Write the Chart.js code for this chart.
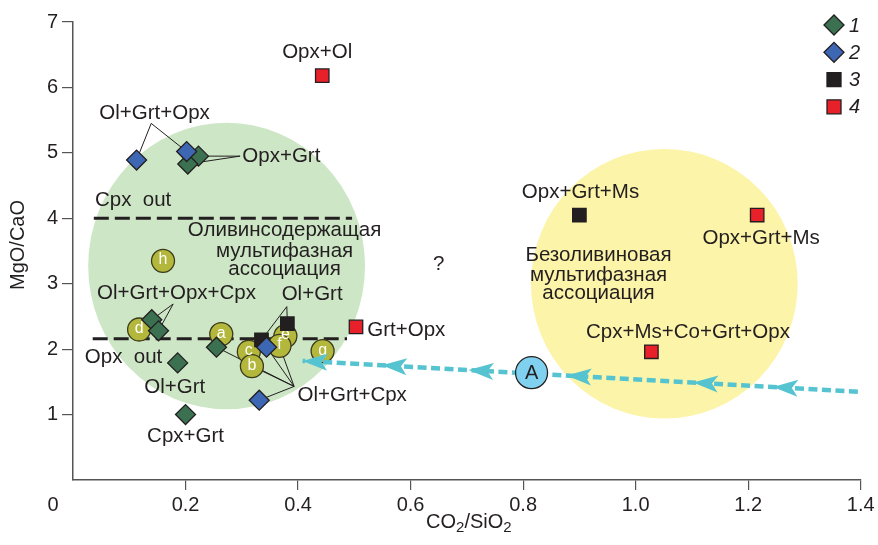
<!DOCTYPE html>
<html><head><meta charset="utf-8">
<script src="https://cdn.jsdelivr.net/npm/chart.js@4"></script>
<style>html,body{margin:0;padding:0;background:#fff}#wrap{width:878px;height:545px}</style>
</head><body><div id="wrap"><canvas id="c" width="878" height="545"></canvas></div>
<script>
// ---------- data ----------
const xTickLabels = ['0','0.2','0.4','0.6','0.8','1.0','1.2','1.4'];
const yTickLabels = ['0','1','2','3','4','5','6','7'];
const legendLabels = ['1','2','3','4'];

// series 1 (green diamonds)
const s1X = [0.223,0.204,0.140,0.152,0.186,0.255,0.200];
const s1Y = [4.95,4.83,2.45,2.28,1.79,2.03,1.00];
// series 2 (blue diamonds)
const s2X = [0.113,0.202,0.344,0.331];
const s2Y = [4.89,5.02,2.03,1.22];
// series 3 (black squares)
const s3X = [0.335,0.381,0.900];
const s3Y = [2.14,2.39,4.05];
// series 4 (red squares)
const s4X = [0.443,0.503,1.216,1.028];
const s4Y = [6.18,2.34,4.05,1.96];
// lettered samples
const circLabels = ['a','c','b','d','e','f','g','h'];
const circX = [0.2635,0.3125,0.318,0.1175,0.3775,0.367,0.4436,0.160];
const circY = [2.23,1.96,1.74,2.30,2.20,2.05,1.97,3.35];
// point A
const ptAX = [0.815];
const ptAY = [1.64];
// boundaries
const cpxOutX = [0.037,0.496];
const cpxOutY = [4.0,4.0];
const opxOutX = [0.035,0.487];
const opxOutY = [2.16,2.16];
// trend arrow
const trendX = [1.395,0.408];
const trendY = [1.35,1.82];
const arrowHeadX = [0.549,0.703,0.877,1.102,1.244];
// fields (ellipses): centre and radii in data units
const fieldCX = [0.273,1.051];
const fieldCY = [3.27,3.00];
const fieldRX = [0.246,0.237];
const fieldRY = [2.19,2.06];
const fieldColors = ['#cde6c5','#fcf4a8'];

// ---------- annotations ----------
const notes = [
  {t:'Opx+Ol', x:0.434, y:6.53, a:'center'},
  {t:'Ol+Grt+Opx', x:0.145, y:5.61, a:'center'},
  {t:'Opx+Grt', x:0.301, y:4.95, a:'left'},
  {t:'Cpx  out', x:0.039, y:4.27, a:'left'},
  {t:'Оливинсодержащая', x:0.376, y:3.81, a:'center'},
  {t:'мультифазная', x:0.376, y:3.50, a:'center'},
  {t:'ассоциация', x:0.376, y:3.22, a:'center'},
  {t:'?', x:0.650, y:3.30, a:'center'},
  {t:'Ol+Grt+Opx+Cpx', x:0.184, y:2.86, a:'center'},
  {t:'Ol+Grt', x:0.425, y:2.83, a:'center'},
  {t:'Grt+Opx', x:0.523, y:2.29, a:'left'},
  {t:'Opx  out', x:0.021, y:1.88, a:'left'},
  {t:'Ol+Grt', x:0.181, y:1.42, a:'center'},
  {t:'Cpx+Grt', x:0.200, y:0.67, a:'center'},
  {t:'Ol+Grt+Cpx', x:0.399, y:1.30, a:'left'},
  {t:'Opx+Grt+Ms', x:0.902, y:4.39, a:'center'},
  {t:'Безоливиновая', x:0.934, y:3.44, a:'center'},
  {t:'мультифазная', x:0.934, y:3.13, a:'center'},
  {t:'ассоциация', x:0.934, y:2.86, a:'center'},
  {t:'Opx+Grt+Ms', x:1.223, y:3.70, a:'center'},
  {t:'Cpx+Ms+Co+Grt+Opx', x:1.093, y:2.25, a:'center'}
];
const leaders = [
  {from:[0.139,5.45], to:[[s2X[0],s2Y[0]],[s2X[1],s2Y[1]]]},
  {from:[0.297,4.95], to:[[s1X[0],s1Y[0]],[s1X[1],s1Y[1]]]},
  {from:[0.178,2.69], to:[[s1X[2],s1Y[2]],[s1X[3],s1Y[3]]]},
  {from:[0.380,2.65], to:[[s3X[0],s3Y[0]],[s3X[1],s3Y[1]]]},
  {from:[0.393,1.43], to:[[s1X[5],s1Y[5]],[circX[2],circY[2]],[s2X[2],s2Y[2]],[circX[5],circY[5]],[s2X[3],s2Y[3]]]}
];

const FONT = '"Liberation Sans", Arial, Helvetica, sans-serif';
const INK = '#231f20';
const zip = (xs, ys) => xs.map((x, i) => ({x, y: ys[i]}));

const deco = {
  id: 'deco',
  beforeDatasetsDraw(chart) {
    const ctx = chart.ctx, xs = chart.scales.x, ys = chart.scales.y;
    ctx.save();
    for (let i = 0; i < fieldCX.length; i++) {
      const cx = xs.getPixelForValue(fieldCX[i]), cy = ys.getPixelForValue(fieldCY[i]);
      const rx = Math.abs(xs.getPixelForValue(fieldCX[i] + fieldRX[i]) - cx);
      const ry = Math.abs(ys.getPixelForValue(fieldCY[i] + fieldRY[i]) - cy);
      ctx.beginPath(); ctx.ellipse(cx, cy, rx, ry, 0, 0, Math.PI * 2);
      ctx.fillStyle = fieldColors[i]; ctx.fill();
    }
    ctx.strokeStyle = INK; ctx.lineWidth = 1;
    leaders.forEach(l => {
      const fx = xs.getPixelForValue(l.from[0]), fy = ys.getPixelForValue(l.from[1]);
      l.to.forEach(t => {
        ctx.beginPath(); ctx.moveTo(fx, fy);
        ctx.lineTo(xs.getPixelForValue(t[0]), ys.getPixelForValue(t[1])); ctx.stroke();
      });
    });
    ctx.restore();
  },
  afterDatasetDraw(chart, args) {
    const ctx = chart.ctx, xs = chart.scales.x, ys = chart.scales.y;
    const ds = chart.data.datasets[args.index];
    if (ds.tag === 'trend') {
      ctx.save();
      ctx.fillStyle = '#55c4d0';
      const x0 = xs.getPixelForValue(trendX[0]), y0 = ys.getPixelForValue(trendY[0]);
      const x1 = xs.getPixelForValue(trendX[1]), y1 = ys.getPixelForValue(trendY[1]);
      const ang = Math.atan2(y1 - y0, x1 - x0);
      const heads = arrowHeadX.map(v => xs.getPixelForValue(v)).concat([x1]);
      heads.forEach(hx => {
        const t = (hx - x0) / (x1 - x0);
        const hy = y0 + t * (y1 - y0);
        ctx.save(); ctx.translate(hx, hy); ctx.rotate(ang);
        ctx.beginPath(); ctx.moveTo(0, 0); ctx.lineTo(-25, -8.5); ctx.lineTo(-19, 0); ctx.lineTo(-25, 8.5); ctx.closePath();
        ctx.fill(); ctx.restore();
      });
      ctx.restore();
    }
    if (ds.tag === 'circ') {
      ctx.save();
      ctx.fillStyle = '#ffffff'; ctx.font = '16px ' + FONT;
      ctx.textAlign = 'center'; ctx.textBaseline = 'middle';
      circLabels.forEach((l, i) => ctx.fillText(l, xs.getPixelForValue(circX[i]), ys.getPixelForValue(circY[i]) - 1));
      ctx.restore();
    }
    if (ds.tag === 'A') {
      ctx.save();
      ctx.fillStyle = INK; ctx.font = '20px ' + FONT;
      ctx.textAlign = 'center'; ctx.textBaseline = 'middle';
      ctx.fillText('A', xs.getPixelForValue(ptAX[0]), ys.getPixelForValue(ptAY[0]) + 1);
      ctx.restore();
    }
  },
  afterDraw(chart) {
    const ctx = chart.ctx, xs = chart.scales.x, ys = chart.scales.y;
    ctx.save();
    ctx.fillStyle = INK; ctx.font = '20.5px ' + FONT; ctx.textBaseline = 'middle';
    notes.forEach(n => {
      ctx.textAlign = n.a;
      ctx.fillText(n.t, xs.getPixelForValue(n.x), ys.getPixelForValue(n.y));
    });
    ctx.font = '20px ' + FONT;
    // origin label
    ctx.textAlign = 'center';
    ctx.fillText(xTickLabels[0], xs.left - 20, xs.top + 25);
    // y title
    ctx.save(); ctx.translate(18, 245); ctx.rotate(-Math.PI / 2);
    ctx.textAlign = 'center'; ctx.fillText('MgO/CaO', 0, 0); ctx.restore();
    // x title with subscripts
    const parts = [['CO', 0], ['2', 1], ['/SiO', 0], ['2', 1]];
    let w = 0;
    parts.forEach(p => { ctx.font = (p[1] ? '15px ' : '20px ') + FONT; w += ctx.measureText(p[0]).width; });
    let tx = (xs.left + xs.right) / 2 - w / 2 + 2; const ty = 522;
    ctx.textAlign = 'left';
    parts.forEach(p => {
      ctx.font = (p[1] ? '15px ' : '20px ') + FONT;
      ctx.fillText(p[0], tx, ty + (p[1] ? 6 : 0));
      tx += ctx.measureText(p[0]).width;
    });
    // legend
    const styles = [['rectRot', '#3b7150'], ['rectRot', '#3d66b3'], ['rect', '#231f20'], ['rect', '#e8202a']];
    legendLabels.forEach((l, i) => {
      const lx = 834, ly = 25 + i * 27.3;
      ctx.beginPath();
      if (styles[i][0] === 'rectRot') {
        ctx.moveTo(lx - 10, ly); ctx.lineTo(lx, ly - 10); ctx.lineTo(lx + 10, ly); ctx.lineTo(lx, ly + 10); ctx.closePath();
      } else {
        ctx.rect(lx - 7, ly - 7, 14, 14);
      }
      ctx.fillStyle = styles[i][1]; ctx.fill();
      ctx.strokeStyle = INK; ctx.lineWidth = 1.3; ctx.stroke();
      ctx.fillStyle = INK; ctx.font = 'italic 20px ' + FONT; ctx.textAlign = 'left';
      ctx.fillText(l, lx + 15, ly + 1);
    });
    ctx.restore();
  }
};

const markerBase = {type: 'scatter', borderColor: INK, borderWidth: 1.3, pointHoverRadius: 10};

new Chart(document.getElementById('c'), {
  type: 'scatter',
  data: {
    datasets: [
      Object.assign({}, markerBase, {label: '2', data: zip(s2X, s2Y), pointStyle: 'rectRot', pointRadius: 10, backgroundColor: '#3d66b3', order: 1}),
      Object.assign({}, markerBase, {label: '1', data: zip(s1X, s1Y), pointStyle: 'rectRot', pointRadius: 10, backgroundColor: '#3b7150', order: 2}),
      Object.assign({}, markerBase, {label: '3', data: zip(s3X, s3Y), pointStyle: 'rect', pointRadius: 9.5, backgroundColor: '#231f20', order: 3}),
      Object.assign({}, markerBase, {label: '4', data: zip(s4X, s4Y), pointStyle: 'rect', pointRadius: 9.5, backgroundColor: '#e8202a', order: 4}),
      Object.assign({}, markerBase, {label: 'A', tag: 'A', data: zip(ptAX, ptAY), pointStyle: 'circle', pointRadius: 16, backgroundColor: '#80d1ef', order: 5}),
      {type: 'line', tag: 'trend', data: zip(trendX, trendY), borderColor: '#55c4d0', borderWidth: 4.5, borderDash: [9, 4.5], pointRadius: 0, order: 6},
      Object.assign({}, markerBase, {label: 'samples', tag: 'circ', data: zip(circX, circY), pointStyle: 'circle', pointRadius: 11.5, backgroundColor: '#b3b83c', borderColor: '#3b3a1c', order: 7}),
      {type: 'line', data: zip(cpxOutX, cpxOutY), borderColor: INK, borderWidth: 3, borderDash: [15, 6], pointRadius: 0, order: 8},
      {type: 'line', data: zip(opxOutX, opxOutY), borderColor: INK, borderWidth: 3, borderDash: [15, 6], pointRadius: 0, order: 9}
    ]
  },
  options: {
    responsive: false, animation: false, devicePixelRatio: 1,
    layout: {padding: {left: 0, top: 22, right: 15, bottom: 0}},
    plugins: {legend: {display: false}, tooltip: {enabled: false}},
    scales: {
      x: {
        type: 'linear', min: 0, max: 1.4,
        afterFit: s => { s.height = 65; },
        afterBuildTicks: s => { s.ticks = xTickLabels.map((l, i) => ({value: i * 0.2})); },
        ticks: {callback: (v, i) => i === 0 ? '' : xTickLabels[i], color: INK, font: {family: FONT, size: 20}, padding: 3, maxRotation: 0, autoSkip: false},
        grid: {drawOnChartArea: false, drawTicks: true, tickLength: 10, color: c => (c.index === 0 ? 'rgba(0,0,0,0)' : '#555'), lineWidth: 1.2},
        border: {display: true, color: '#555', width: 1.5}
      },
      y: {
        type: 'linear', min: 0, max: 7,
        afterFit: s => { s.width = 73; },
        afterBuildTicks: s => { s.ticks = yTickLabels.map((l, i) => ({value: i})); },
        ticks: {callback: (v, i) => i === 0 ? '' : yTickLabels[i], color: INK, font: {family: FONT, size: 20}, padding: 4, autoSkip: false},
        grid: {drawOnChartArea: false, drawTicks: true, tickLength: 11, color: c => (c.index === 0 ? 'rgba(0,0,0,0)' : '#555'), lineWidth: 1.2},
        border: {display: true, color: '#555', width: 1.5}
      }
    }
  },
  plugins: [deco]
});
</script></body></html>
